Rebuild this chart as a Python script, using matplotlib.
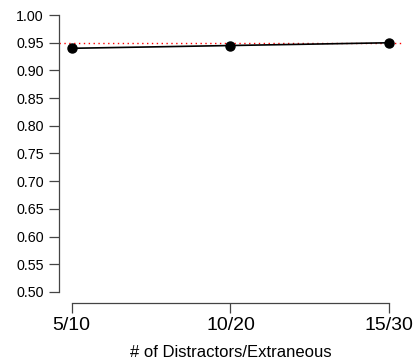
import matplotlib
matplotlib.use("Agg")
import matplotlib.pyplot as plt

categories = ["5/10", "10/20", "15/30"]
values = [0.940, 0.945, 0.950]
reference = 0.95
yticks = [0.50, 0.55, 0.60, 0.65, 0.70, 0.75, 0.80, 0.85, 0.90, 0.95, 1.00]

plt.rcParams['font.family'] = ['Liberation Sans', 'DejaVu Sans']

fig = plt.figure(figsize=(4.18, 3.64), dpi=100)
ax = fig.add_axes([59/418, 1-303/364, (402-59)/418, (303-4)/364])
x = list(range(1, len(categories) + 1))
ax.set_xlim(0.92, 3.08)
ax.set_ylim(0.48, 1.02)
ax.axhline(reference, color='#ff0000', lw=1.0, ls=(0, (1, 2.5)))
ax.plot(x, values, color='black', lw=1.2, marker='o', ms=6.5, zorder=3)

for s in ['top', 'right']:
    ax.spines[s].set_visible(False)
ax.spines['left'].set_bounds(0.5, 1.0)
ax.spines['bottom'].set_bounds(1, 3)
for s in ['left', 'bottom']:
    ax.spines[s].set_color('#444444')
    ax.spines[s].set_linewidth(0.9)

ax.set_yticks(yticks)
ax.set_yticklabels([f"{v:.2f}" for v in yticks], fontsize=10.3)
ax.set_xticks(x)
ax.set_xticklabels(categories, fontsize=14)
ax.tick_params(axis='both', length=7, width=0.9, color='#444444')
ax.tick_params(axis='y', pad=4)
ax.tick_params(axis='x', pad=3)
ax.set_xlabel("# of Distractors/Extraneous", fontsize=12, labelpad=8)

fig.savefig("out.png", dpi=100)
